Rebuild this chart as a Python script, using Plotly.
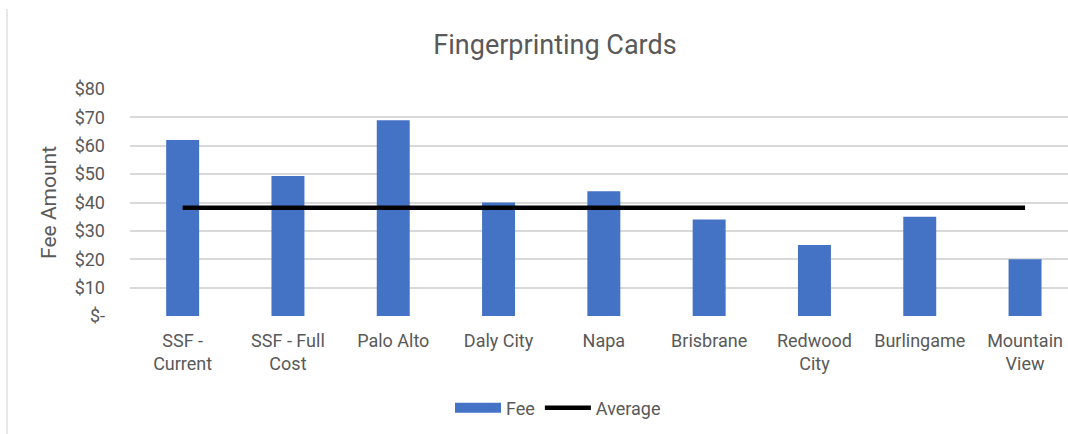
import plotly.graph_objects as go

# Fingerprinting card fees by city
cities = ["SSF -<br>Current", "SSF - Full<br>Cost", "Palo Alto", "Daly City", "Napa",
          "Brisbrane", "Redwood<br>City", "Burlingame", "Mountain<br>View"]
fees = [62, 49.3, 69, 40, 44, 34, 25, 35, 20]

# Average line uses the comparison cities (excludes the two SSF rows)
comparison = fees[2:]
avg_value = sum(comparison) / len(comparison)
average = [avg_value] * len(cities)

tick_vals = [0, 10, 20, 30, 40, 50, 60, 70, 80]
tick_text = ["$-", "$10", "$20", "$30", "$40", "$50", "$60", "$70", "$80"]

W, H = 1068, 434
L, R, T, B = 130, 0, 89, 118
grey = "#595959"
blue = "#4472C4"
font = "Roboto"
xs = list(range(len(cities)))

fig = go.Figure()
fig.add_trace(go.Bar(
    x=xs, y=fees, name="Fee", showlegend=False,
    marker=dict(color=blue, line=dict(width=0)),
))
# legend entry for the bars drawn as a wide swatch
fig.add_trace(go.Scatter(
    x=[None], y=[None], name="Fee", mode="lines",
    line=dict(color=blue, width=10), hoverinfo="skip",
))
fig.add_trace(go.Scatter(
    x=xs, y=average, name="Average", mode="lines",
    line=dict(color="black", width=4.5),
))

# thin frame edge on the left
plot_w = W - L - R
plot_h = H - T - B
fig.add_shape(type="line", xref="paper", yref="paper",
              x0=(7 - L) / plot_w, x1=(7 - L) / plot_w,
              y0=(H - B - 9) / plot_h, y1=(H - B - H) / plot_h,
              line=dict(color="#d9d9d9", width=1.2))

fig.update_layout(
    width=W, height=H,
    margin=dict(l=L, r=R, t=T, b=B, autoexpand=False),
    paper_bgcolor="white", plot_bgcolor="white",
    font=dict(family=font, color=grey, size=18),
    bargap=0.687,
    title=dict(text="Fingerprinting Cards", x=555 / W, xref="container", xanchor="center",
               y=1 - 45 / H, yref="container", yanchor="middle",
               font=dict(family=font, size=27, color=grey)),
    showlegend=True,
    legend=dict(orientation="h", xref="container", yref="container",
                x=558 / W, xanchor="center", y=1 - 408 / H, yanchor="middle",
                font=dict(family=font, size=18, color=grey), itemwidth=46,
                traceorder="normal"),
    xaxis=dict(
        range=[-0.5, -0.5 + plot_w / 105.3],
        tickvals=xs, ticktext=cities,
        showgrid=False, zeroline=False, showline=False, ticks="",
        ticklabelstandoff=12,
        tickfont=dict(family=font, size=18, color=grey),
    ),
    yaxis=dict(
        range=[0, 80], tickvals=tick_vals, ticktext=tick_text,
        showgrid=True, gridcolor="#d9d9d9", gridwidth=1.5,
        zeroline=False, showline=False, ticks="",
        ticklabelstandoff=24,
        tickfont=dict(family=font, size=18, color=grey),
        title=dict(text="Fee Amount", standoff=12,
                   font=dict(family=font, size=21, color=grey)),
    ),
)

fig.write_html("out.html")
